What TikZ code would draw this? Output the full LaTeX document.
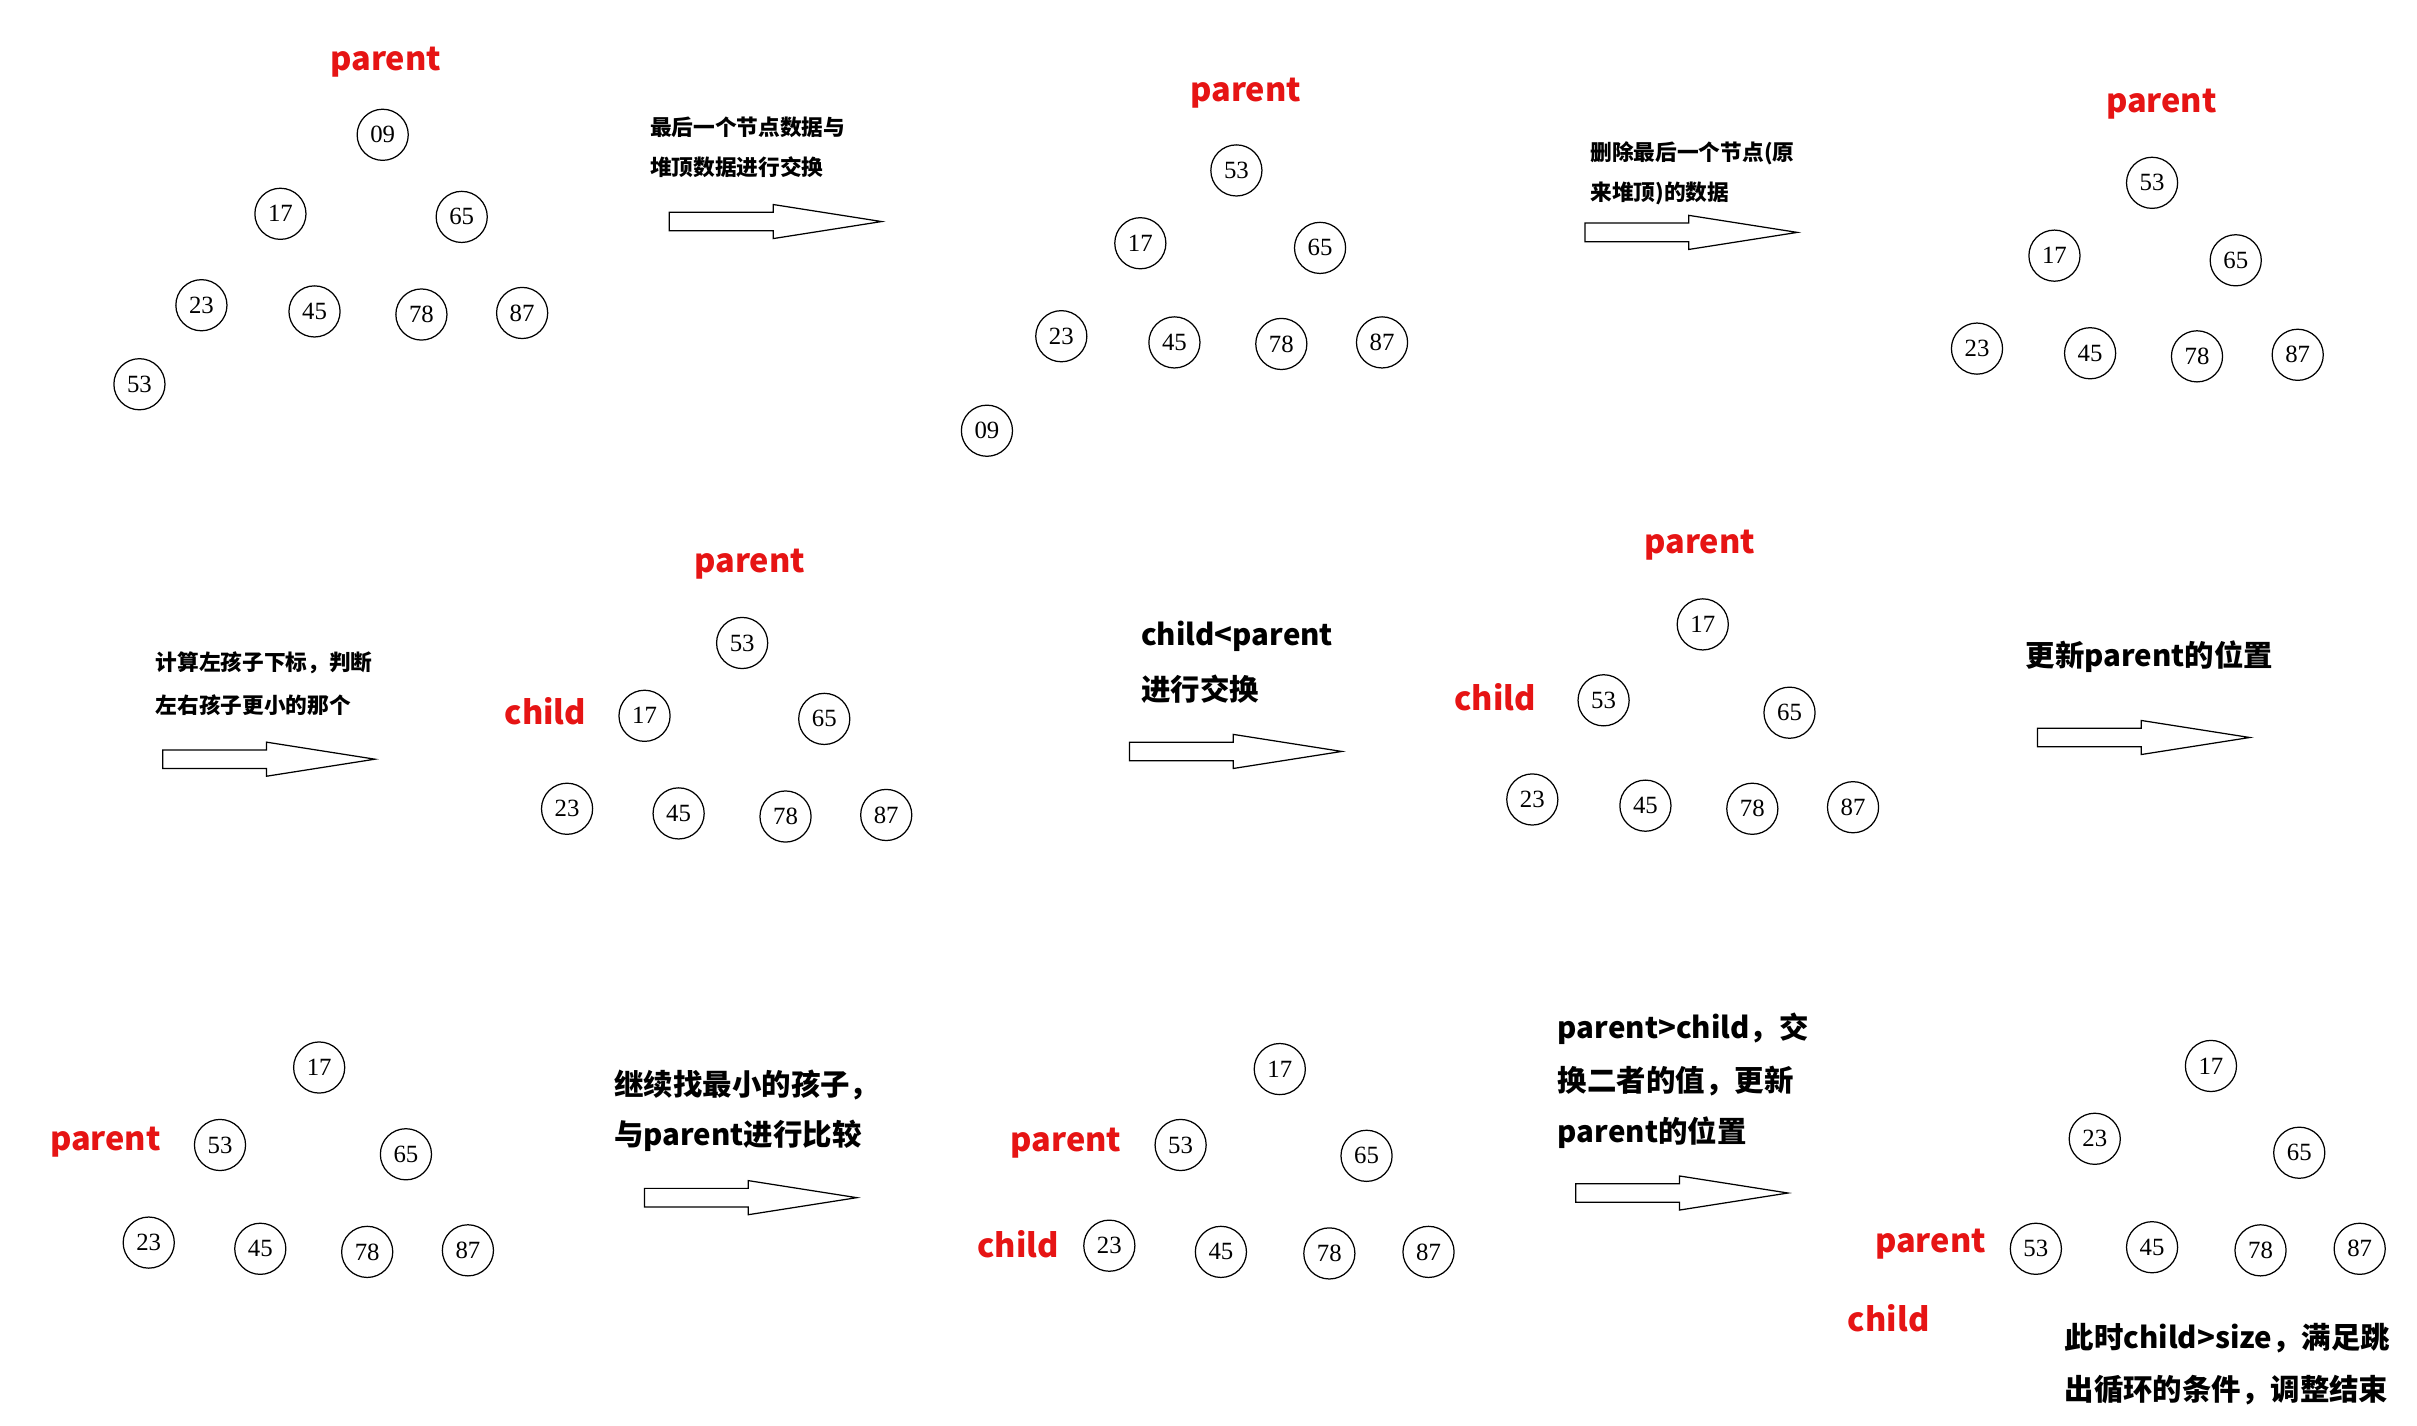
\documentclass[tikz,border=0pt]{standalone}
\usepackage{fontspec}
\setmainfont{Noto Sans CJK SC}
\newfontfamily\numfont{Liberation Serif}
\definecolor{pred}{RGB}{230,20,20}
\tikzset{
 num/.style={circle,draw,thick,minimum size=33pt,inner sep=0pt,font=\numfont\fontsize{16}{16}\selectfont},
 lab/.style={text=pred,font=\bfseries\fontsize{21}{21}\selectfont},
 txt/.style={anchor=west,font=\bfseries\fontsize{14}{14}\selectfont},
 txtb/.style={anchor=west,font=\bfseries\fontsize{19}{19}\selectfont},
 harrow/.style={thick,draw=black}
}
\newcommand{\bigarrow}[2]{%
 \draw[harrow] (#1,#2-6) -- (#1+67,#2-6) -- (#1+67,#2-11) -- (#1+137,#2) -- (#1+67,#2+11) -- (#1+67,#2+6) -- (#1,#2+6) -- cycle;}
\newcommand{\tree}[8]{%
 \foreach \v/\p in {#2} { \node[num] (#1-\v) at \p {\v}; }}
\begin{document}
\begin{tikzpicture}[x=1pt,y=-1pt]
\useasboundingbox[fill=white] (0,0) rectangle (1560,920);
% tree 1
\foreach \v/\x/\y in {09/247/87,17/181/138,65/298/140,23/130/197,45/203/201,78/272/203,87/337/202,53/90/248}
 \node[num] (a\v) at (\x,\y) {\v};
\node[lab] (pa) at (249,40) {parent};
\node[txt] (ta1) at (416,82) {最后一个节点数据与};
\node[txt] (ta2) at (416,108) {堆顶数据进行交换};
\bigarrow{432}{143}
% tree 2
\foreach \v/\x/\y in {53/798/110,17/736/157,65/852/160,23/685/217,45/758/221,78/827/222,87/892/221,09/637/278}
 \node[num] (b\v) at (\x,\y) {\v};
\node[lab] (pb) at (804,60) {parent};
\node[txt] (tb1) at (1023,99) {删除最后一个节点(原};
\node[txt] (tb2) at (1023,125) {来堆顶)的数据};
\bigarrow{1023}{150}
% tree 3
\foreach \v/\x/\y in {53/1389/118,17/1326/165,65/1443/168,23/1276/225,45/1349/228,78/1418/230,87/1483/229}
 \node[num] (c\v) at (\x,\y) {\v};
\node[lab] (pc) at (1395,67) {parent};
% row 2
\node[txt] (td1) at (97,428) {计算左孩子下标，判断};
\node[txt] (td2) at (97,455) {左右孩子更小的那个};
\bigarrow{105}{490}
\foreach \v/\x/\y in {53/479/415,17/416/462,65/532/464,23/366/522,45/438/525,78/507/527,87/572/526}
 \node[num] (d\v) at (\x,\y) {\v};
\node[lab] (pd) at (484,364) {parent};
\node[lab] (cd) at (352,459) {child};
\node[txtb] (te1) at (733,411) {child<parent};
\node[txtb] (te2) at (733,445) {进行交换};
\bigarrow{729}{485}
\foreach \v/\x/\y in {17/1099/403,53/1035/452,65/1155/460,23/989/516,45/1062/520,78/1131/522,87/1196/521}
 \node[num] (e\v) at (\x,\y) {\v};
\node[lab] (pe) at (1097,352) {parent};
\node[lab] (ce) at (965,450) {child};
\node[txtb] (tf1) at (1304,424) {更新parent的位置};
\bigarrow{1315}{476}
% row 3
\foreach \v/\x/\y in {17/206/689,53/142/739,65/262/745,23/96/802,45/168/806,78/237/808,87/302/807}
 \node[num] (f\v) at (\x,\y) {\v};
\node[lab] (pf) at (68,737) {parent};
\node[txtb] (tg1) at (393,700) {继续找最小的孩子，};
\node[txtb] (tg2) at (393,733) {与parent进行比较};
\bigarrow{416}{773}
\foreach \v/\x/\y in {17/826/690,53/762/739,65/882/746,23/716/804,45/788/808,78/858/809,87/922/808}
 \node[num] (g\v) at (\x,\y) {\v};
\node[lab] (pg) at (688,738) {parent};
\node[lab] (cg) at (657,803) {child};
\node[txtb] (th1) at (1002,664) {parent>child，交};
\node[txtb] (th2) at (1002,698) {换二者的值，更新};
\node[txtb] (th3) at (1002,731) {parent的位置};
\bigarrow{1017}{770}
\foreach \v/\x/\y in {17/1427/688,23/1352/735,65/1484/744,53/1314/806,45/1389/805,78/1459/807,87/1523/806}
 \node[num] (h\v) at (\x,\y) {\v};
\node[lab] (ph) at (1246,803) {parent};
\node[lab] (ch) at (1219,851) {child};
\node[txtb] (ti1) at (1329,864) {此时child>size，满足跳};
\node[txtb] (ti2) at (1329,897) {出循环的条件，调整结束};
\end{tikzpicture}
\end{document}
